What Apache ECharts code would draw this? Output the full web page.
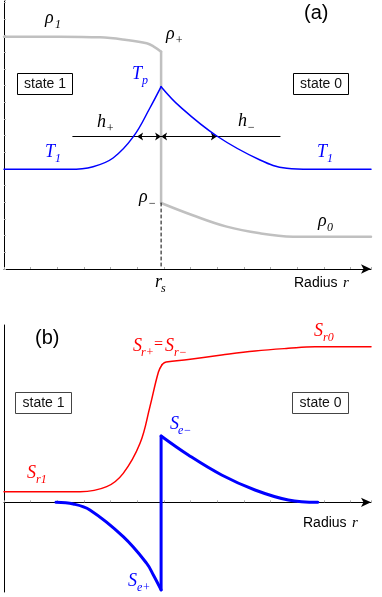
<!DOCTYPE html>
<html>
<head>
<meta charset="utf-8">
<script src="https://cdn.jsdelivr.net/npm/echarts@6/dist/echarts.min.js"></script>
<style>
  html, body { margin: 0; padding: 0; background: #fff; }
  #chart { width: 382px; height: 597px; }
</style>
</head>
<body>
<div id="chart"></div>
<script>
// radius measured in tick units, rs = shock radius
const rs = 5.89;

// (a) density rho and temperature T
const rhoLeft = [[0, 13.94], [2.1, 13.94], [3.6, 13.9], [4.6, 13.74], [5.35, 13.54], [5.6, 13.36], [rs, 13.04]];
const rhoJump = [[rs, 13.04], [rs, 3.96]];
const rhoRight = [[rs, 3.96], [7.05, 3.24], [8.35, 2.54], [9.6, 2.14], [10.84, 1.94], [11.5, 1.93], [13.76, 1.93]];
const tempLeft = [[0, 5.98], [2.47, 5.98], [3.34, 6.14], [4.09, 6.66], [4.85, 7.94], [5.47, 9.66], [rs, 10.94]];
const tempRight = [[rs, 10.94], [6.6, 9.74], [7.98, 7.98], [9.6, 6.54], [10.6, 6.04], [11.47, 5.98], [13.76, 5.98]];
const hLine = [[2.58, 7.95], [10.35, 7.95]];
const hPlus = [[4.99, 7.95], [rs, 7.95]];
const hMinus = [[rs, 7.95], [7.98, 7.95]];
const rsDash = [[rs, 3.96], [rs, 0]];

// (b) S_r and S_e
const srLow = [[0, 0.64], [2.85, 0.64], [3.85, 0.94], [4.47, 1.74], [5.1, 3.54], [5.47, 5.73], [5.79, 7.82], [5.93, 8.27]];
const srHigh = [[5.93, 8.27], [6.08, 8.42], [6.91, 8.57], [8.16, 8.84], [9.41, 9.08], [10.66, 9.24], [11.66, 9.33], [13.76, 9.33]];
const seLeft = [[1.95, 0], [2.6, -0.1], [3.22, -0.46], [4.47, -2.06], [5.35, -3.66], [5.6, -4.36], [rs, -5.25]];
const seJump = [[rs, -5.25], [rs, 3.98]];
const seRight = [[rs, 3.98], [6.91, 2.84], [8.16, 1.64], [9.41, 0.74], [10.66, 0.14], [11.77, 0]];

const BLUE = '#0000ff', RED = '#ff0000', GREY = '#c0c0c0';
const SERIF = '"Liberation Serif", "DejaVu Serif", serif';
const SANS = '"Liberation Sans", Arial, sans-serif';

function curve(data, grid, color, width, smooth, dash) {
  return {
    type: 'line', xAxisIndex: grid, yAxisIndex: grid, data: data,
    smooth: smooth, symbol: 'none', silent: true,
    lineStyle: { color: color, width: width, cap: 'round', type: dash || 'solid' }
  };
}

// text with baseline at y
function txt(x, y, s, font, size, color) {
  return {
    type: 'text', x: x, y: y - 0.32 * size, silent: true,
    style: {
      text: s, font: font, fill: color,
      align: 'left', verticalAlign: 'middle', textAlign: 'left', textVerticalAlign: 'middle'
    }
  };
}
function sym(x, y, main, sub, subX, color) {
  return [
    txt(x, y, main, 'italic 18px ' + SERIF, 18, color),
    txt(subX, y + 5, sub, 'italic 12px ' + SERIF, 12, color)
  ];
}
function box(x, y, w, h, label, stroke) {
  return [
    { type: 'rect', silent: true, shape: { x: x, y: y, width: w, height: h },
      style: { fill: '#fff', stroke: stroke, lineWidth: 1 } },
    { type: 'text', silent: true, x: x + w / 2, y: y + h / 2 + 0.5,
      style: { text: label, font: '14px ' + SANS, fill: '#111',
        align: 'center', verticalAlign: 'middle', textAlign: 'center', textVerticalAlign: 'middle' } }
  ];
}

function xAx(grid) {
  return {
    gridIndex: grid, type: 'value', min: 0, max: 13.76, interval: 1,
    axisLine: { show: true, onZero: true, symbol: ['none', 'arrow'], symbolSize: [7, 10],
      lineStyle: { color: '#000', width: 1 } },
    axisTick: { show: true, inside: true, length: 2, lineStyle: { color: '#aaa' } },
    axisLabel: { show: false }, splitLine: { show: false }
  };
}

const chart = echarts.init(document.getElementById('chart'), null, { renderer: 'canvas' });

const graphics = [].concat(
  txt(304, 20, '(a)', '20px ' + SANS, 20, '#000'),
  txt(35, 345, '(b)', '20px ' + SANS, 20, '#000'),
  box(17.5, 73.5, 55, 21, 'state 1', '#000'),
  box(293.5, 73.5, 55, 21, 'state 0', '#000'),
  box(15.5, 392.5, 56, 21, 'state 1', '#444'),
  box(292.5, 392.5, 56, 21, 'state 0', '#444'),
  sym(45, 24, 'ρ', '1', 55, '#000'),
  sym(166, 40, 'ρ', '+', 175, '#000'),
  sym(139, 203, 'ρ', '−', 148, '#000'),
  sym(318, 227, 'ρ', '0', 327, '#000'),
  sym(132, 80, 'T', 'p', 142, BLUE),
  sym(45, 158, 'T', '1', 55, BLUE),
  sym(317, 158, 'T', '1', 327, BLUE),
  sym(97, 128, 'h', '+', 106, '#000'),
  sym(238, 127, 'h', '−', 247, '#000'),
  sym(155, 288, 'r', 's', 161, '#000'),
  txt(294, 288, 'Radius', '14px ' + SANS, 14, '#000'),
  txt(343, 288, 'r', 'italic 15px ' + SERIF, 15, '#000'),
  sym(133, 352, 'S', 'r+', 141, RED),
  txt(154, 350, '=', '16px ' + SERIF, 16, RED),
  sym(165, 352, 'S', 'r−', 174, RED),
  sym(314, 337, 'S', 'r0', 323, RED),
  sym(27, 479, 'S', 'r1', 36, RED),
  sym(170, 430, 'S', 'e−', 178, BLUE),
  sym(128, 587, 'S', 'e+', 137, BLUE),
  txt(303, 528, 'Radius', '14px ' + SANS, 14, '#000'),
  txt(352, 528, 'r', 'italic 15px ' + SERIF, 15, '#000')
);

chart.setOption({
  animation: false,
  backgroundColor: '#fff',
  grid: [
    { left: 4, top: 0, width: 367, height: 269 },
    { left: 4, top: 325, width: 367, height: 267 }
  ],
  xAxis: [xAx(0), xAx(1)],
  yAxis: [
    { gridIndex: 0, type: 'value', min: 0, max: 16.14, interval: 1,
      axisLine: { show: true, lineStyle: { color: '#000', width: 1 } },
      axisTick: { show: true, inside: true, length: 2, lineStyle: { color: '#aaa' } },
      axisLabel: { show: false }, splitLine: { show: false } },
    { gridIndex: 1, type: 'value', min: -5.38, max: 10.64,
      axisLine: { show: true, onZero: false, lineStyle: { color: '#000', width: 1 } },
      axisTick: { show: false }, axisLabel: { show: false }, splitLine: { show: false } }
  ],
  series: [
    curve(rhoLeft, 0, GREY, 2.5, 0.4),
    curve(rhoJump, 0, GREY, 2.5, false),
    curve(rhoRight, 0, GREY, 2.5, 0.4),
    curve(rsDash, 0, '#000', 1, false, [3, 3]),
    curve(hLine, 0, '#000', 1, false),
    curve(tempLeft, 0, BLUE, 1.5, 0.4),
    curve(tempRight, 0, BLUE, 1.5, 0.4),
    {
      type: 'lines', coordinateSystem: 'cartesian2d', xAxisIndex: 0, yAxisIndex: 0,
      symbol: ['arrow', 'arrow'], symbolSize: 6, silent: true,
      lineStyle: { color: '#000', width: 1, opacity: 1 },
      data: [{ coords: hPlus }, { coords: hMinus }]
    },
    curve(srLow, 1, RED, 1.5, 0.4),
    curve(srHigh, 1, RED, 1.5, 0.4),
    curve(seLeft, 1, BLUE, 3, 0.4),
    curve(seJump, 1, BLUE, 3, false),
    curve(seRight, 1, BLUE, 3, 0.4)
  ],
  graphic: graphics
});
</script>
</body>
</html>
